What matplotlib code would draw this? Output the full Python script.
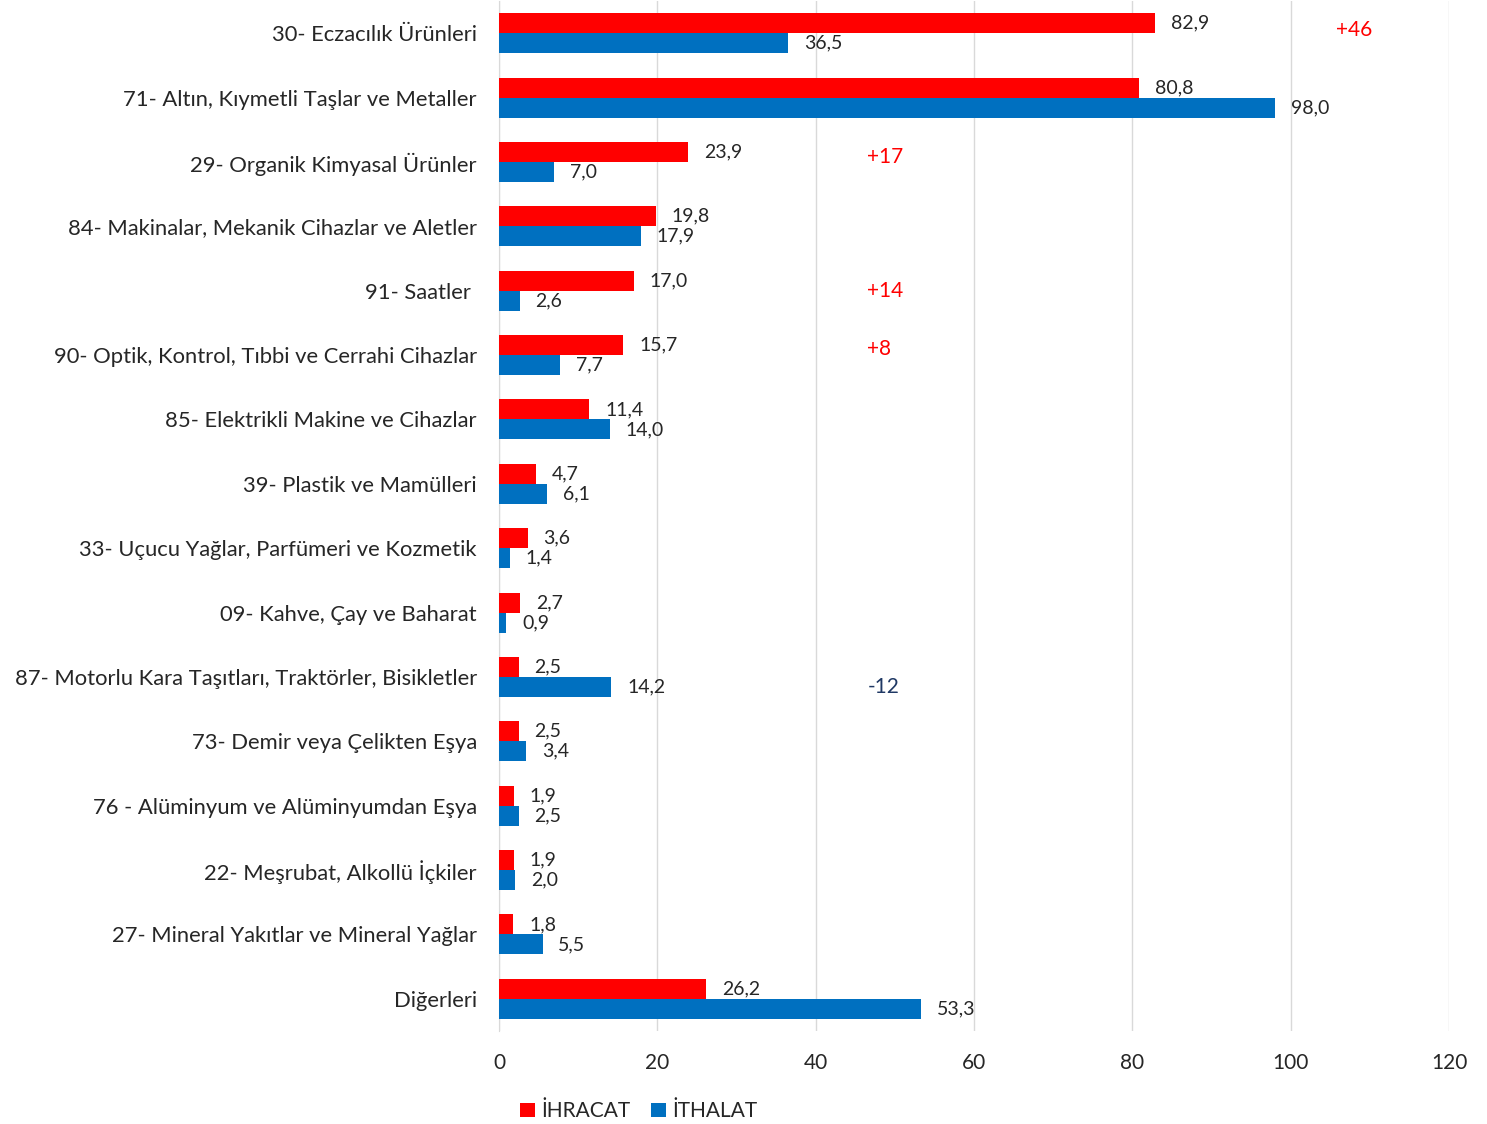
import numpy as np
import matplotlib.pyplot as plt

plt.rcParams['font.family'] = ['Lato', 'DejaVu Sans']

# -----------------------------
# Data
# -----------------------------
categories = [
    "30- Eczacılık Ürünleri",
    "71- Altın, Kıymetli Taşlar ve Metaller",
    "29- Organik Kimyasal Ürünler",
    "84- Makinalar, Mekanik Cihazlar ve Aletler",
    "91- Saatler ",
    "90- Optik, Kontrol, Tıbbi ve Cerrahi Cihazlar",
    "85- Elektrikli Makine ve Cihazlar",
    "39- Plastik ve Mamülleri",
    "33- Uçucu Yağlar, Parfümeri ve Kozmetik",
    "09- Kahve, Çay ve Baharat",
    "87- Motorlu Kara Taşıtları, Traktörler, Bisikletler",
    "73- Demir veya Çelikten Eşya",
    "76 - Alüminyum ve Alüminyumdan Eşya",
    "22- Meşrubat, Alkollü İçkiler",
    "27- Mineral Yakıtlar ve Mineral Yağlar",
    "Diğerleri",
]
ihracat = [82.9, 80.8, 23.9, 19.8, 17.0, 15.7, 11.4, 4.7, 3.6, 2.7, 2.5, 2.5, 1.9, 1.9, 1.8, 26.2]
ithalat = [36.5, 98.0, 7.0, 17.9, 2.6, 7.7, 14.0, 6.1, 1.4, 0.9, 14.2, 3.4, 2.5, 2.0, 5.5, 53.3]

# difference notes: (category index, x position, text, colour)
note_idx = [0, 2, 4, 5, 10]
note_x = [108.0, 48.8, 48.8, 48.0, 48.6]
note_text = ["+46", "+17", "+14", "+8", "-12"]
note_color = ["#FF0000", "#FF0000", "#FF0000", "#FF0000", "#1F3864"]
note_dy = [-0.05, -0.07, 0.0, -0.1, 0.15]

red = "#FF0000"
blue = "#0070C0"

# -----------------------------
# Plot
# -----------------------------
fig = plt.figure(figsize=(14.87, 11.24), dpi=100)
ax = fig.add_axes([499 / 1487, 1 - 1031 / 1124, 950 / 1487, 1030 / 1124])

y = np.arange(len(categories))
h = 0.31

ax.barh(y - h / 2, ihracat, height=h, color=red, label="İHRACAT", zorder=3)
ax.barh(y + h / 2, ithalat, height=h, color=blue, label="İTHALAT", zorder=3)

for i in range(len(categories)):
    ax.text(ihracat[i] + 2, y[i] - h / 2, f"{ihracat[i]:.1f}".replace(".", ","),
            va="center", ha="left", fontsize=14, color="#262626")
    ax.text(ithalat[i] + 2, y[i] + h / 2, f"{ithalat[i]:.1f}".replace(".", ","),
            va="center", ha="left", fontsize=14, color="#262626")

for i, xv, t, c, dy in zip(note_idx, note_x, note_text, note_color, note_dy):
    ax.text(xv, y[i] + dy, t, color=c, fontsize=15, va="center", ha="center")

ax.set_xlim(0, 120)
ax.set_ylim(len(categories) - 0.5, -0.5)
ax.set_xticks(range(0, 121, 20))
ax.set_yticks(y)
ax.set_yticklabels(categories, fontsize=15.8, color="#262626", va="center_baseline")
ax.tick_params(axis="both", length=0)
ax.tick_params(axis="x", labelsize=15, pad=16, colors="#262626")
ax.tick_params(axis="y", pad=16)

ax.grid(axis="x", color="#D9D9D9", linewidth=1, zorder=0)
for s in ["top", "right", "bottom"]:
    ax.spines[s].set_visible(False)
ax.spines["left"].set_color("#D9D9D9")

ax.legend(loc="upper center", bbox_to_anchor=(0.147, -0.064), ncol=2, frameon=False,
          fontsize=15, handlelength=0.7, handleheight=0.7, handletextpad=0.3,
          columnspacing=1.0, labelcolor="#262626", borderaxespad=0, borderpad=0.2)

plt.savefig("out.png", dpi=100)
